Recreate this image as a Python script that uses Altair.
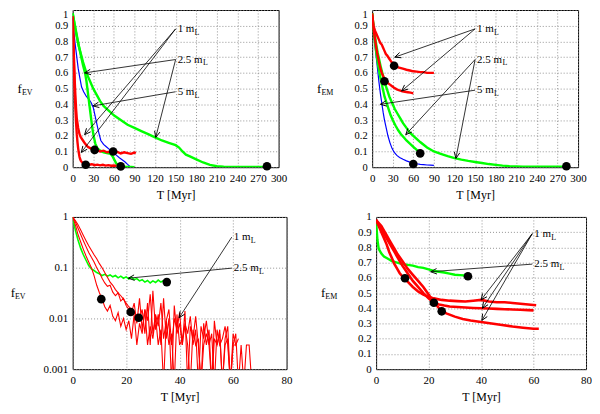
import math
import altair as alt
import pandas as pd

SERIF = "Liberation Serif, Times New Roman, DejaVu Serif, serif"

# ---------------- top left: f_EV, 0-300 Myr ----------------
tl_red_a_t = [0, 1, 2, 3, 4, 5, 6, 7, 8, 9, 10, 11, 12, 14, 16, 18, 20, 24, 28, 32, 36, 40, 44, 48, 52, 56, 60, 64]
tl_red_a_f = [0.96, 0.8, 0.62, 0.48, 0.37, 0.28, 0.21, 0.16, 0.12, 0.09, 0.065, 0.05, 0.04, 0.03, 0.025, 0.02,
              0.022, 0.016, 0.019, 0.013, 0.016, 0.012, 0.015, 0.01, 0.013, 0.009, 0.011, 0.008]
tl_red_b_t = [0, 1, 2, 3, 4, 5, 6, 8, 10, 12, 15, 18, 22, 26, 30, 35, 40, 45, 50, 55, 60, 65, 70, 75, 80, 85, 90, 92]
tl_red_b_f = [0.96, 0.82, 0.68, 0.55, 0.45, 0.37, 0.31, 0.25, 0.21, 0.19, 0.17, 0.15, 0.13, 0.12, 0.115, 0.11,
              0.1, 0.105, 0.095, 0.1, 0.09, 0.097, 0.088, 0.095, 0.09, 0.085, 0.093, 0.09]
tl_blue_t = [0, 2, 4, 6, 8, 10, 13, 16, 20, 24, 27, 30, 34, 38, 41, 45, 49, 53, 57, 60, 64, 68, 72, 76, 80, 83, 86]
tl_blue_f = [0.95, 0.85, 0.77, 0.7, 0.63, 0.58, 0.51, 0.48, 0.45, 0.43, 0.41, 0.38, 0.3, 0.22, 0.17, 0.145,
             0.13, 0.115, 0.1, 0.09, 0.075, 0.06, 0.048, 0.035, 0.018, 0.006, 0.0]
tl_green_a_t = [0, 3, 6, 9, 12, 15, 18, 20, 22, 24, 26, 28, 30, 33, 36, 40, 45, 50, 55, 58, 61, 64, 67, 70, 75,
                80, 85, 90]
tl_green_a_f = [0.98, 0.91, 0.84, 0.77, 0.71, 0.65, 0.6, 0.55, 0.48, 0.41, 0.34, 0.27, 0.21, 0.15, 0.12, 0.105,
                0.095, 0.09, 0.085, 0.07, 0.045, 0.02, 0.008, 0.004, 0.003, 0.002, 0.002, 0.0]
tl_green_b_t = [0, 3, 6, 9, 12, 15, 20, 25, 30, 35, 40, 45, 50, 55, 60, 70, 80, 90, 100, 110, 120, 130, 140, 150,
                155, 160, 165, 170, 180, 190, 200, 210, 220, 240, 260, 280]
tl_green_b_f = [0.98, 0.9, 0.83, 0.77, 0.72, 0.67, 0.6, 0.55, 0.5, 0.46, 0.42, 0.39, 0.37, 0.35, 0.33, 0.3, 0.27,
                0.25, 0.23, 0.21, 0.19, 0.17, 0.155, 0.14, 0.125, 0.1, 0.08, 0.07, 0.05, 0.03, 0.015, 0.006,
                0.003, 0.002, 0.002, 0.002]
tl_dot_t = [19, 32, 59, 70, 283]
tl_dot_f = [0.016, 0.11, 0.1, 0.005, 0.006]

# ---------------- top right: f_EM, 0-300 Myr ----------------
tr_red_a_t = [0, 2, 4, 6, 8, 10, 12, 14, 16, 18, 20, 22, 25, 28, 31, 34, 38, 42, 46, 50, 55, 60, 65, 70, 75, 80,
              85, 90]
tr_red_a_f = [0.98, 0.9, 0.87, 0.85, 0.83, 0.81, 0.79, 0.78, 0.76, 0.74, 0.72, 0.71, 0.69, 0.67, 0.655, 0.645,
              0.635, 0.63, 0.625, 0.62, 0.615, 0.61, 0.608, 0.605, 0.605, 0.6, 0.6, 0.6]
tr_red_b_t = [0, 2, 4, 6, 8, 10, 12, 14, 16, 18, 20, 23, 26, 29, 32, 36, 40, 44, 48, 52, 56, 60]
tr_red_b_f = [0.97, 0.88, 0.82, 0.76, 0.71, 0.67, 0.63, 0.6, 0.58, 0.56, 0.55, 0.535, 0.525, 0.515, 0.505,
              0.495, 0.488, 0.483, 0.48, 0.477, 0.474, 0.47]
tr_blue_t = [0, 2, 4, 6, 8, 10, 12, 14, 16, 18, 20, 23, 26, 29, 32, 36, 40, 45, 50, 55, 60, 65, 70, 75, 80, 85, 90]
tr_blue_f = [0.97, 0.86, 0.78, 0.7, 0.62, 0.54, 0.47, 0.41, 0.35, 0.3, 0.26, 0.2, 0.155, 0.12, 0.095, 0.075,
             0.062, 0.05, 0.04, 0.032, 0.027, 0.022, 0.018, 0.016, 0.014, 0.013, 0.012]
tr_green_a_t = [0, 2, 4, 6, 8, 10, 12, 15, 18, 21, 24, 27, 30, 34, 38, 42, 46, 50, 55, 60, 65, 70]
tr_green_a_f = [0.98, 0.88, 0.8, 0.73, 0.67, 0.62, 0.57, 0.51, 0.45, 0.41, 0.37, 0.33, 0.3, 0.265, 0.235, 0.21,
                0.19, 0.17, 0.15, 0.13, 0.11, 0.09]
tr_green_b_t = [0, 2, 4, 6, 8, 10, 13, 16, 19, 22, 25, 29, 33, 37, 41, 45, 50, 55, 60, 70, 80, 90, 100, 110, 120,
                130, 140, 150, 160, 170, 180, 190, 200, 220, 240, 260, 280]
tr_green_b_f = [0.98, 0.9, 0.84, 0.78, 0.73, 0.69, 0.63, 0.58, 0.53, 0.49, 0.45, 0.41, 0.37, 0.34, 0.31, 0.28,
                0.25, 0.22, 0.2, 0.16, 0.125, 0.1, 0.085, 0.07, 0.058, 0.048, 0.04, 0.033, 0.027, 0.02, 0.015,
                0.01, 0.007, 0.004, 0.003, 0.003, 0.004]
tr_dot_t = [32, 18, 60, 70, 283]
tr_dot_f = [0.645, 0.547, 0.02, 0.088, 0.006]

# ---------------- bottom left: f_EV, log, 0-80 Myr ----------------
bl_green_t = list(range(0, 35))
bl_green_f = [1, 0.55, 0.35, 0.24, 0.18, 0.14, 0.11, 0.095, 0.088, 0.08, 0.076, 0.07, 0.074, 0.068, 0.072, 0.066,
              0.07, 0.063, 0.068, 0.062, 0.066, 0.06, 0.065, 0.058, 0.061, 0.055, 0.058, 0.052, 0.056, 0.05,
              0.055, 0.051, 0.057, 0.052, 0.056]
bl_red_a_t = list(range(0, 62))
bl_red_a_f = [1, 0.7, 0.45, 0.32, 0.23, 0.17, 0.13, 0.1, 0.07, 0.045, 0.032, 0.024, 0.017, 0.014, 0.018, 0.011,
              0.009, 0.013, 0.007, 0.01, 0.006,
              0.009, 0.004, 0.012, 0.003, 0.008, 0.005, 0.015, 0.003, 0.007, 0.004, 0.011, 0.003, 0.006, 0.0005,
              0.009, 0.003, 0.005, 0.0005, 0.012, 0.003, 0.004, 0.007, 0.003, 0.0005, 0.006, 0.003, 0.004,
              0.0005, 0.003, 0.005, 0.003, 0.0005, 0.004, 0.003, 0.006, 0.0005, 0.003, 0.004, 0.0005, 0.003, 0.003]
bl_red_b_t = list(range(0, 63))
bl_red_b_f = [1, 0.8, 0.6, 0.45, 0.34, 0.26, 0.2, 0.16, 0.13, 0.1, 0.08, 0.062, 0.05, 0.043, 0.045, 0.033, 0.028,
              0.032, 0.022, 0.025, 0.018, 0.015, 0.013,
              0.02, 0.008, 0.025, 0.006, 0.015, 0.009, 0.03, 0.005, 0.012, 0.007, 0.02, 0.004, 0.009, 0.015,
              0.003, 0.01, 0.006, 0.013, 0.003, 0.008, 0.005, 0.011, 0.003, 0.006, 0.0005, 0.007, 0.004, 0.009,
              0.003, 0.005, 0.0005, 0.006, 0.003, 0.004, 0.007, 0.003, 0.0005, 0.005, 0.003, 0.004]
bl_red_c_t = list(range(0, 68))
bl_red_c_f = [1, 0.85, 0.7, 0.55, 0.43, 0.34, 0.27, 0.22, 0.18, 0.15, 0.12, 0.1, 0.08, 0.065, 0.052, 0.045, 0.037,
              0.032, 0.028, 0.024, 0.02, 0.017, 0.015, 0.013, 0.011, 0.0103,
              0.015, 0.005, 0.02, 0.003, 0.035, 0.006, 0.012, 0.003, 0.025, 0.004, 0.01, 0.0005, 0.018, 0.005,
              0.008, 0.003, 0.014, 0.0005, 0.007, 0.004, 0.011, 0.003, 0.0005, 0.008, 0.003, 0.006, 0.0005,
              0.009, 0.003, 0.005, 0.0005, 0.004, 0.007, 0.0005, 0.003, 0.005, 0.0005, 0.003, 0.0005, 0.003,
              0.003, 0.0005]
bl_dot_t = [10.7, 21.7, 24.7, 35.2]
bl_dot_f = [0.024, 0.0134, 0.0103, 0.052]

# ---------------- bottom right: f_EM, 0-80 Myr ----------------
br_green_t = [0, 0.5, 1, 2, 3, 4, 5, 6, 8, 10, 12, 14, 16, 18, 20, 22, 24, 26, 28, 30, 32, 34]
br_green_f = [0.97, 0.85, 0.79, 0.76, 0.74, 0.73, 0.72, 0.71, 0.7, 0.69, 0.685, 0.68, 0.67, 0.665, 0.655, 0.645,
              0.64, 0.635, 0.628, 0.62, 0.618, 0.615]
br_red_a_t = [0, 1, 2, 3, 4, 5, 6, 7, 8, 9, 10, 11, 12, 14, 16, 18, 20, 22, 25, 28, 31, 34, 37, 40, 43, 46, 49,
              52, 55, 58, 61]
br_red_a_f = [0.98, 0.94, 0.9, 0.86, 0.82, 0.77, 0.73, 0.69, 0.66, 0.63, 0.61, 0.595, 0.575, 0.54, 0.51, 0.49,
              0.475, 0.465, 0.455, 0.45, 0.447, 0.445, 0.45, 0.455, 0.445, 0.44, 0.44, 0.435, 0.43, 0.425, 0.42]
br_red_b_t = [0, 1, 2, 3, 4, 5, 6, 7, 8, 10, 12, 14, 16, 18, 20, 22, 24, 26, 28, 31, 34, 37, 40, 43, 46, 49, 52,
              55, 58, 60]
br_red_b_f = [0.98, 0.95, 0.92, 0.89, 0.86, 0.83, 0.8, 0.77, 0.74, 0.68, 0.63, 0.58, 0.54, 0.5, 0.465, 0.436,
              0.425, 0.418, 0.412, 0.408, 0.405, 0.402, 0.4, 0.398, 0.396, 0.394, 0.392, 0.39, 0.388, 0.386]
br_red_c_t = [0, 1, 2, 3, 4, 5, 6, 7, 8, 10, 12, 14, 16, 18, 20, 22, 24, 25, 27, 30, 33, 36, 40, 44, 48, 52, 56,
              60, 62]
br_red_c_f = [0.98, 0.96, 0.94, 0.91, 0.88, 0.85, 0.82, 0.79, 0.76, 0.71, 0.66, 0.62, 0.58, 0.54, 0.49, 0.44,
              0.4, 0.38, 0.365, 0.345, 0.33, 0.32, 0.31, 0.3, 0.29, 0.28, 0.272, 0.265, 0.265]
br_dot_t = [11, 22, 25, 35]
br_dot_f = [0.597, 0.436, 0.38, 0.61]

# annotations: label text, arrow start (T, f), arrow tip (T, f)
tl_notes = [("1 m", 150, 0.88, 17.4, 0.207), ("1 m", 150, 0.88, 12.6, 0.094),
            ("2.5 m", 150, 0.685, 17.4, 0.6), ("2.5 m", 150, 0.685, 121, 0.19),
            ("5 m", 150, 0.48, 29.5, 0.39)]
tr_notes = [("1 m", 150, 0.88, 33, 0.70), ("1 m", 150, 0.88, 43, 0.485),
            ("2.5 m", 150, 0.685, 49, 0.207), ("2.5 m", 150, 0.685, 122, 0.056),
            ("5 m", 150, 0.49, 12, 0.40)]
bl_notes = [("1 m", 59.5, 0.40, 39.8, 0.0103), ("2.5 m", 59.5, 0.098, 20.8, 0.062)]
br_notes = [("1 m", 59.5, 0.89, 40, 0.455), ("1 m", 59.5, 0.89, 40.5, 0.40), ("1 m", 59.5, 0.89, 40.3, 0.32),
            ("2.5 m", 59.5, 0.69, 20.8, 0.64)]

COLORS = {"1": "#ff0000", "2.5": "#00ff00", "5": "#0000ff"}
CHEVRON = "M-0.45,1L0,0L0.45,1"


def runs_frame(runs):
    rows = []
    for name, mass, ts, fs in runs:
        for t, f in zip(ts, fs):
            rows.append({"T": t, "f": f, "run": name, "mass": mass})
    return pd.DataFrame(rows)


def panel(runs, widths, dot_t, dot_f, notes, xmax, xstep, ylog, sub, w, h, top_flush, title_x):
    xs = alt.Scale(domain=[0, xmax], nice=False, zero=False)
    if ylog:
        ys = alt.Scale(type="log", domain=[0.001, 1], nice=False)
        yvals = [0.001, 0.01, 0.1, 1]
    else:
        ys = alt.Scale(domain=[0, 1], nice=False)
        yvals = [0, 0.1, 0.2, 0.3, 0.4, 0.5, 0.6, 0.7, 0.8, 0.9, 1]
    xax = alt.Axis(values=list(range(0, xmax + 1, xstep)), format="d", title="T [Myr]",
                   labelOverlap=False, labelFlush=False)
    if top_flush:
        # top label hangs below the frame so the panel can sit at the very top
        base = {"condition": {"test": "datum.value >= 1", "value": "top"}, "value": "middle"}
        yax = alt.Axis(values=yvals, format="~g", title=None, labelFlush=False, labelOverlap=False,
                       labelBaseline=base, labelFontSize=10.5)
    else:
        yax = alt.Axis(values=yvals, format="~g", title=None, labelFlush=False, labelOverlap=False)

    def X(fld):
        return alt.X(fld, type="quantitative", scale=xs, axis=xax)

    def Y(fld):
        return alt.Y(fld, type="quantitative", scale=ys, axis=yax)

    df = runs_frame(runs)
    layers = []
    for mass in ["5", "2.5", "1"]:
        if mass not in set(df["mass"]):
            continue
        layers.append(
            alt.Chart(df).transform_filter(alt.datum.mass == mass)
            .mark_line(color=COLORS[mass], strokeWidth=widths[mass], clip=True)
            .encode(x=X("T"), y=Y("f"), detail="run:N")
        )

    dots = pd.DataFrame({"T": dot_t, "f": dot_f})
    layers.append(alt.Chart(dots).mark_circle(size=75, color="black", opacity=1).encode(x=X("T"), y=Y("f")))

    # arrows
    g = (lambda v: math.log10(v)) if ylog else (lambda v: v)
    sx = w / xmax
    sy = h / (3 if ylog else 1)
    arr = []
    for text, t0, f0, t1, f1 in notes:
        dx = (t1 - t0) * sx
        dy = -(g(f1) - g(f0)) * sy
        ang = math.degrees(math.atan2(dx, -dy)) % 360
        arr.append({"T": t0, "f": f0, "T2": t1, "f2": f1, "ang": ang})
    arr = pd.DataFrame(arr)
    layers.append(alt.Chart(arr).mark_rule(color="black", strokeWidth=0.8).encode(
        x=X("T"), y=Y("f"), x2="T2", y2="f2"))
    layers.append(alt.Chart(arr).mark_point(shape=CHEVRON, size=150, filled=False, color="black",
                                            strokeWidth=0.9, opacity=1).encode(
        x=X("T2"), y=Y("f2"), angle=alt.Angle("ang:Q", scale=None)))

    # labels "1 m_L" etc.
    labs = pd.DataFrame([{"T": n[1], "f": n[2], "main": n[0]} for n in notes]).drop_duplicates()
    layers.append(alt.Chart(labs).mark_text(align="left", baseline="middle", dx=2, font=SERIF, fontSize=11,
                                            color="black").encode(x=X("T"), y=Y("f"), text="main:N"))
    for main, off in [("1 m", 19), ("5 m", 19), ("2.5 m", 27.5)]:
        part = labs[labs["main"] == main]
        if len(part) == 0:
            continue
        layers.append(alt.Chart(part).mark_text(align="left", baseline="middle", dx=off, dy=4, font=SERIF,
                                                fontSize=8, color="black", text="L")
                      .encode(x=X("T"), y=Y("f")))

    # y title with subscript
    one = pd.DataFrame({"a": [0]})
    layers.append(alt.Chart(one).mark_text(align="right", baseline="middle", font=SERIF, fontSize=13,
                                           color="black", text="f")
                  .encode(x=alt.value(title_x), y=alt.value(h / 2)))
    layers.append(alt.Chart(one).mark_text(align="left", baseline="middle", font=SERIF, fontSize=8,
                                           color="black", text=sub)
                  .encode(x=alt.value(title_x), y=alt.value(h / 2 + 4)))

    return alt.layer(*layers).properties(width=w, height=h)


top_w = {"1": 2.4, "2.5": 2.4, "5": 1.2}

tl = panel([("ra", "1", tl_red_a_t, tl_red_a_f), ("rb", "1", tl_red_b_t, tl_red_b_f),
            ("b", "5", tl_blue_t, tl_blue_f),
            ("ga", "2.5", tl_green_a_t, tl_green_a_f), ("gb", "2.5", tl_green_b_t, tl_green_b_f)],
           top_w, tl_dot_t, tl_dot_f, tl_notes, 300, 30, False, "EV", 207, 158, True, -51)

tr = panel([("ra", "1", tr_red_a_t, tr_red_a_f), ("rb", "1", tr_red_b_t, tr_red_b_f),
            ("b", "5", tr_blue_t, tr_blue_f),
            ("ga", "2.5", tr_green_a_t, tr_green_a_f), ("gb", "2.5", tr_green_b_t, tr_green_b_f)],
           top_w, tr_dot_t, tr_dot_f, tr_notes, 300, 30, False, "EM", 207, 158, True, -51)

bl = panel([("ra", "1", bl_red_a_t, bl_red_a_f), ("rb", "1", bl_red_b_t, bl_red_b_f),
            ("rc", "1", bl_red_c_t, bl_red_c_f), ("g", "2.5", bl_green_t, bl_green_f)],
           {"1": 1.1, "2.5": 1.6, "5": 1}, bl_dot_t, bl_dot_f, bl_notes, 80, 20, True, "EV", 215, 153, False, -58)

br = panel([("ra", "1", br_red_a_t, br_red_a_f), ("rb", "1", br_red_b_t, br_red_b_f),
            ("rc", "1", br_red_c_t, br_red_c_f), ("g", "2.5", br_green_t, br_green_f)],
           {"1": 2.6, "2.5": 2.4, "5": 1}, br_dot_t, br_dot_f, br_notes, 80, 20, False, "EM", 211, 153, False, -51)

chart = alt.vconcat(
    alt.hconcat(tl, tr, spacing=29),
    alt.hconcat(bl, br, spacing=28),
    spacing=9,
).properties(
    padding={"left": 2, "top": 0, "right": 0, "bottom": 0}
).configure_view(
    stroke="black", strokeWidth=1
).configure_axis(
    labelFont=SERIF, titleFont=SERIF, labelFontSize=11, titleFontSize=12, titleFontWeight="normal",
    labelColor="black", titleColor="black", grid=True, gridDash=[1, 2], gridColor="#888888",
    gridOpacity=0.9, domain=False, ticks=False, labelPadding=5, titlePadding=6
)

chart.save("out.html", embed_options={"renderer": "svg", "actions": False})
